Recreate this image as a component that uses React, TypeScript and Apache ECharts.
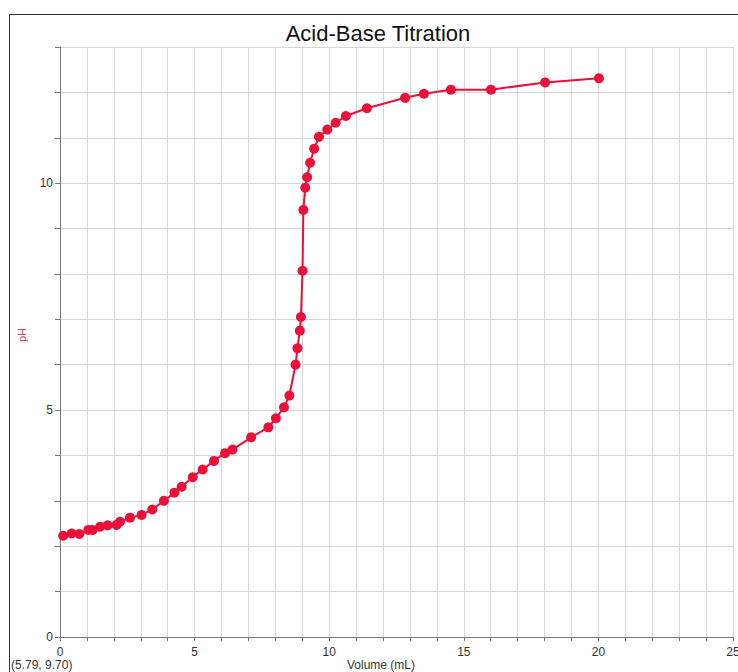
import React, { useEffect, useRef } from "react";
import * as echarts from "echarts";

const volumeML = [
  0.12, 0.43, 0.72, 1.05, 1.21, 1.49, 1.77, 2.1, 2.23, 2.6, 3.03, 3.43, 3.86, 4.25, 4.52,
  4.93, 5.3, 5.72, 6.13, 6.41, 7.1, 7.74, 8.02, 8.32, 8.52, 8.75, 8.82, 8.91, 8.95, 9.01,
  9.04, 9.11, 9.18, 9.29, 9.44, 9.62, 9.93, 10.24, 10.62, 11.4, 12.82, 13.52, 14.52, 16.01,
  18.02, 20.02,
];
const pHValues = [
  2.23, 2.28, 2.27, 2.36, 2.36, 2.43, 2.46, 2.47, 2.54, 2.63, 2.69, 2.81, 3.0, 3.18, 3.31,
  3.52, 3.69, 3.88, 4.05, 4.13, 4.4, 4.62, 4.82, 5.06, 5.32, 6.0, 6.36, 6.75, 7.05, 8.07,
  9.41, 9.9, 10.13, 10.45, 10.76, 11.02, 11.18, 11.33, 11.48, 11.65, 11.88, 11.97, 12.06, 12.06,
  12.22, 12.31,
];
const titleText = "Acid-Base Titration";
const xAxisName = "Volume (mL)";
const yAxisName = "pH";
const cursorReadout = "(5.79, 9.70)";

const FONT = "'Liberation Sans', Arial, sans-serif";
const RED = "#ec1038";

export default function App() {
  const ref = useRef<HTMLDivElement>(null);
  useEffect(() => {
    document.body.style.margin = "0";
    const chart = echarts.init(ref.current!, null, { renderer: "svg" });
    const data = volumeML.map((v, i) => [v, pHValues[i]]);
    chart.setOption({
      animation: false,
      backgroundColor: "#ffffff",
      textStyle: { fontFamily: FONT },
      grid: {
        left: 60,
        top: 47,
        right: 5,
        bottom: 35,
        containLabel: false,
        outerBoundsMode: "none",
      },
      xAxis: {
        type: "value",
        min: 0,
        max: 25,
        interval: 1,
        axisLine: { show: true, onZero: false, lineStyle: { color: "#777", width: 1 } },
        axisTick: { show: true, length: 4, lineStyle: { color: "#777" } },
        axisLabel: {
          color: "#333",
          fontSize: 12,
          fontFamily: FONT,
          margin: 9,
          formatter: (v: number) => (v % 5 === 0 ? String(v) : ""),
        },
        splitLine: { show: true, lineStyle: { color: "#d6d6d6", width: 1 } },
      },
      yAxis: {
        type: "value",
        min: 0,
        max: 13,
        interval: 1,
        axisLine: { show: true, onZero: false, lineStyle: { color: "#777", width: 1 } },
        axisTick: { show: true, length: 5, lineStyle: { color: "#777" } },
        axisLabel: {
          color: "#333",
          fontSize: 12,
          fontFamily: FONT,
          margin: 7,
          formatter: (v: number) => (v % 5 === 0 ? String(v) : ""),
        },
        splitLine: { show: true, lineStyle: { color: "#d6d6d6", width: 1 } },
      },
      series: [
        {
          type: "line",
          data,
          symbol: "circle",
          symbolSize: 10,
          showSymbol: true,
          itemStyle: { color: RED },
          lineStyle: { color: RED, width: 2 },
        },
      ],
      graphic: [
        {
          type: "rect",
          shape: { x: 9.5, y: 14.5, width: 740, height: 700 },
          style: { fill: "none", stroke: "#333", lineWidth: 1 },
          silent: true,
        },
        {
          type: "text",
          x: 378,
          y: 33,
          style: {
            text: titleText,
            fontSize: 22,
            fontFamily: FONT,
            fill: "#111",
            align: "center",
            verticalAlign: "middle",
          },
        },
        {
          type: "text",
          x: 22,
          y: 335,
          rotation: Math.PI / 2,
          style: {
            text: yAxisName,
            fontSize: 11,
            fontFamily: FONT,
            fill: "#d8386a",
            align: "center",
            verticalAlign: "middle",
          },
        },
        {
          type: "text",
          x: 381,
          y: 665,
          style: {
            text: xAxisName,
            fontSize: 12,
            fontFamily: FONT,
            fill: "#333",
            align: "center",
            verticalAlign: "middle",
          },
        },
        {
          type: "text",
          x: 11,
          y: 665,
          style: {
            text: cursorReadout,
            fontSize: 12,
            fontFamily: FONT,
            fill: "#333",
            align: "left",
            verticalAlign: "middle",
          },
        },
      ],
    });
    return () => chart.dispose();
  }, []);
  return <div ref={ref} style={{ width: 738, height: 672 }} />;
}
